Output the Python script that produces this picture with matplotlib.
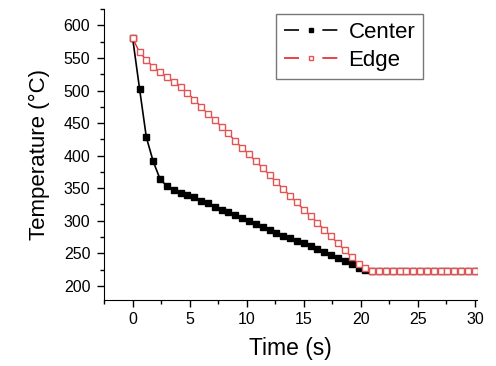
import numpy as np
import matplotlib
matplotlib.use("Agg")
import matplotlib.pyplot as plt
from matplotlib.ticker import MultipleLocator
from matplotlib.lines import Line2D

plt.rcParams['font.family'] = ['Liberation Sans', 'DejaVu Sans']

time = [0.0, 0.6, 1.2, 1.8, 2.4, 3.0, 3.6, 4.2, 4.8, 5.4, 6.0, 6.6, 7.2, 7.8, 8.4,
        9.0, 9.6, 10.2, 10.8, 11.4, 12.0, 12.6, 13.2, 13.8, 14.4, 15.0, 15.6, 16.2,
        16.8, 17.4, 18.0, 18.6, 19.2, 19.8, 20.4, 21.0, 21.6, 22.2, 22.8, 23.4, 24.0,
        24.6, 25.2, 25.8, 26.4, 27.0, 27.6, 28.2, 28.8, 29.4, 30.0]
center = [580, 503, 428, 391, 364, 353, 347, 343, 340, 336, 331, 327, 321, 317, 313,
          309, 304, 300, 295, 290, 285, 281, 277, 273, 269, 266, 261, 256, 252, 248,
          242, 238, 233, 228, 224, 222, 222, 222, 222, 222, 222, 222, 222, 222, 222,
          222, 222, 222, 222, 222, 222]
edge = [580, 559, 547, 536, 528, 521, 513, 505, 496, 486, 475, 464, 455, 444, 434,
        422, 412, 402, 391, 381, 370, 359, 349, 338, 328, 317, 307, 297, 286, 276,
        265, 255, 244, 234, 227, 222, 222, 222, 222, 222, 222, 222, 222, 222, 222,
        222, 222, 222, 222, 222, 222]

fig = plt.figure(figsize=(4.96, 3.66), dpi=100)
ax = fig.add_axes([0.21, 0.18, 0.752, 0.795])

ax.plot(time, center, color='black', lw=1.2, marker='s', ms=5,
        mfc='black', mec='black')
ax.plot(time, edge, color='#e8242a', lw=1.0, marker='s', ms=5,
        mfc='white', mec='#e25555', mew=1.0)

ax.set_xlim(-2.5, 30.2)
ax.set_ylim(178, 625)
ax.xaxis.set_major_locator(MultipleLocator(5))
ax.xaxis.set_minor_locator(MultipleLocator(2.5))
ax.yaxis.set_major_locator(MultipleLocator(50))
ax.yaxis.set_minor_locator(MultipleLocator(25))
ax.tick_params(which='major', direction='out', length=5, width=1, labelsize=11.5)
ax.tick_params(axis='y', which='major', pad=5)
ax.tick_params(which='minor', direction='out', length=3, width=1)
ax.spines['top'].set_visible(False)
ax.spines['right'].set_visible(False)

ax.set_xlabel('Time (s)', fontsize=16.5, labelpad=7)
ax.set_ylabel('Temperature (°C)', fontsize=16, labelpad=10)

# legend handles: line - marker - line
dash = (0, (9, 14))
h_center = (Line2D([], [], color='black', lw=1.2, ls=dash),
            Line2D([], [], color='black', ls='none', marker='s', ms=3.5))
h_edge = (Line2D([], [], color='#e8242a', lw=1.2, ls=dash),
          Line2D([], [], color='#e25555', ls='none', marker='s', ms=3.5,
                 mfc='white', mew=1.0))
leg = ax.legend([h_center, h_edge], ['Center', 'Edge'], loc='upper right',
                bbox_to_anchor=(0.885, 1.02), fontsize=16,
                fancybox=False, edgecolor='#555555', handlelength=2.4,
                borderpad=0.35, labelspacing=0.3, handletextpad=0.5)
leg.get_frame().set_linewidth(1.0)

fig.savefig('out.png', dpi=100)
